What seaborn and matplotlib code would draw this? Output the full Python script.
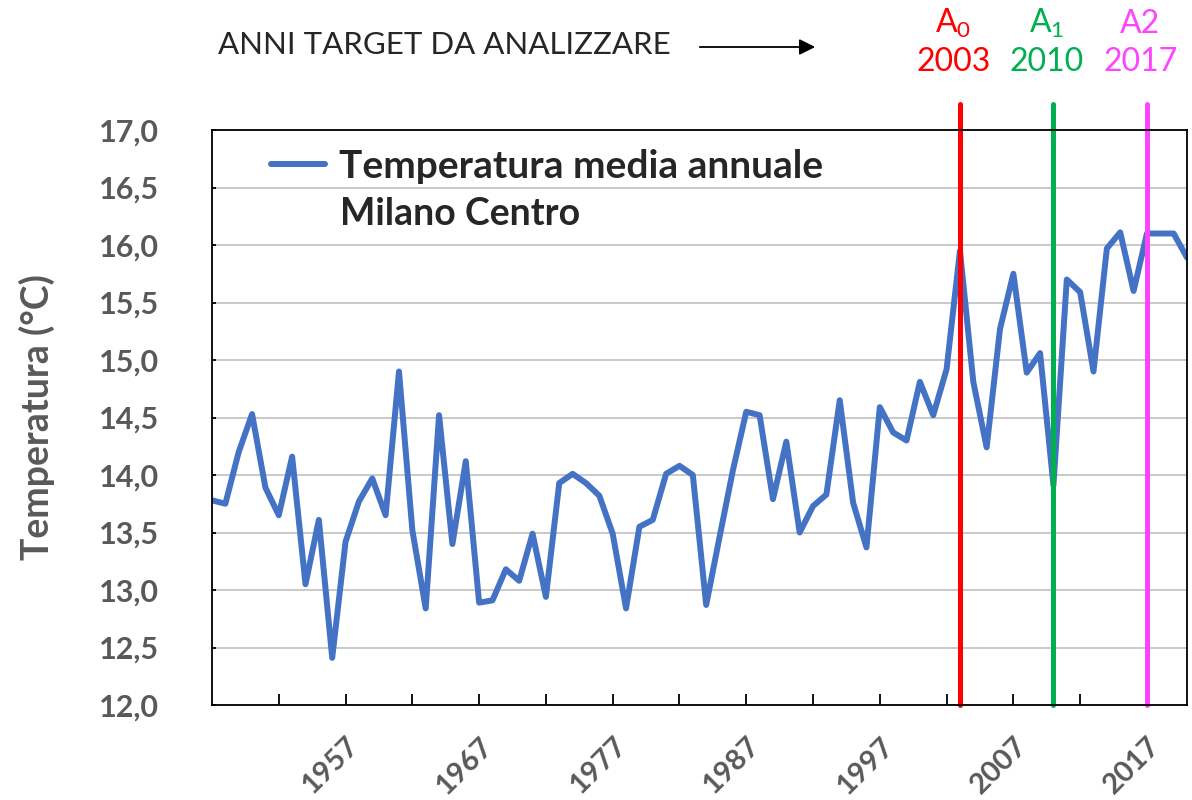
import numpy as np
import pandas as pd
import seaborn as sns
import matplotlib.pyplot as plt
from matplotlib.ticker import FuncFormatter

# annual mean temperature, Milano Centro
years = list(range(1947, 2021))
temps = [13.78, 13.75, 14.20, 14.53, 13.89, 13.65, 14.16, 13.05, 13.61, 12.41,
         13.42, 13.77, 13.97, 13.65, 14.90, 13.52, 12.84, 14.52, 13.40, 14.12,
         12.89, 12.91, 13.18, 13.08, 13.49, 12.94, 13.93, 14.01, 13.93, 13.82,
         13.49, 12.84, 13.55, 13.61, 14.01, 14.08, 14.00, 12.87, 13.46, 14.04,
         14.55, 14.52, 13.79, 14.29, 13.50, 13.73, 13.83, 14.65, 13.76, 13.37,
         14.59, 14.37, 14.30, 14.81, 14.52, 14.92, 15.95, 14.81, 14.24, 15.27,
         15.75, 14.89, 15.06, 13.91, 15.70, 15.59, 14.90, 15.97, 16.11, 15.60,
         16.10, 16.10, 16.10, 15.89]

label_years = list(range(1957, 2018, 10))
minor_years = list(range(1952, 2013, 10))
y_ticks = [12.0, 12.5, 13.0, 13.5, 14.0, 14.5, 15.0, 15.5, 16.0, 16.5, 17.0]

# target years to analyse
target_names = [r"A$_0$", r"A$_1$", "A2"]
target_years = [2003, 2010, 2017]
target_colors = ["#FF0000", "#00B050", "#FF44FF"]

df = pd.DataFrame({"anno": years, "temperatura": temps})

sns.set_style("white")
plt.rcParams["font.family"] = ["Lato", "DejaVu Sans"]
plt.rcParams["mathtext.default"] = "regular"

grey = "#595959"
fig = plt.figure(figsize=(11.92, 8), dpi=100)
ax = fig.add_axes([212 / 1192, 95 / 800, 975 / 1192, 575 / 800])

sns.lineplot(data=df, x="anno", y="temperatura", ax=ax, color="#4472C4",
             linewidth=4.3, label="Temperatura media annuale")

ax.set_xlim(1947, 2020)
ax.set_ylim(12, 17)
ax.set_yticks(y_ticks)
ax.yaxis.set_major_formatter(FuncFormatter(lambda v, p: f"{v:.1f}".replace(".", ",")))
ax.set_xticks(label_years)
ax.set_xticks(minor_years, minor=True)
ax.tick_params(axis="x", which="both", bottom=True, direction="in", length=8,
               width=1.3, color="black", pad=20)
ax.tick_params(axis="y", left=True, direction="in", length=3, width=1.3,
               color="black", pad=38)
for lab in ax.get_yticklabels():
    lab.set_fontsize(22)
    lab.set_fontweight("bold")
    lab.set_color(grey)
for lab in ax.get_xticklabels():
    lab.set_fontsize(21)
    lab.set_fontweight("bold")
    lab.set_color(grey)
    lab.set_rotation(45)
    lab.set_ha("right")
    lab.set_rotation_mode("anchor")

ax.yaxis.grid(True, color="#C0C0C0", linewidth=1.2)
ax.xaxis.grid(False)
for s in ax.spines.values():
    s.set_color("black")
    s.set_linewidth(1.3)
ax.set_xlabel("")
ax.set_ylabel("Temperatura (°C)", fontsize=27, fontweight="bold", color=grey,
              labelpad=32)

leg = ax.legend(loc="upper left", bbox_to_anchor=(0.06, 0.967), frameon=False,
                fontsize=28, handlelength=1.4, handletextpad=0.35,
                borderpad=0, borderaxespad=0)
for t in leg.get_texts():
    t.set_fontweight("bold")
fig.text(340 / 1192, 1 - 214 / 800, "Milano Centro", fontsize=27,
         fontweight="bold", va="center", ha="left")

# vertical target lines and labels
xt = ax.get_xaxis_transform()
for name, yr, c in zip(target_names, target_years, target_colors):
    ax.axvline(yr, ymin=0, ymax=1.045, color=c, linewidth=3.6, clip_on=False)
    ax.text(yr - 0.5, 1.185, name, transform=xt, color=c, fontsize=23,
            ha="center", va="center")
    ax.text(yr - 0.5, 1.118, str(yr), transform=xt, color=c, fontsize=23,
            ha="center", va="center")

fig.text(218 / 1192, 1 - 45 / 800, "ANNI TARGET DA ANALIZZARE", fontsize=22.5,
         va="center", ha="left")
ax.annotate("", xy=(818, 800 - 47), xytext=(697, 800 - 47),
            xycoords="figure pixels", textcoords="figure pixels",
            arrowprops=dict(arrowstyle="-|>", color="black", lw=1.3,
                            mutation_scale=24))

fig.savefig("out.png", dpi=100)
